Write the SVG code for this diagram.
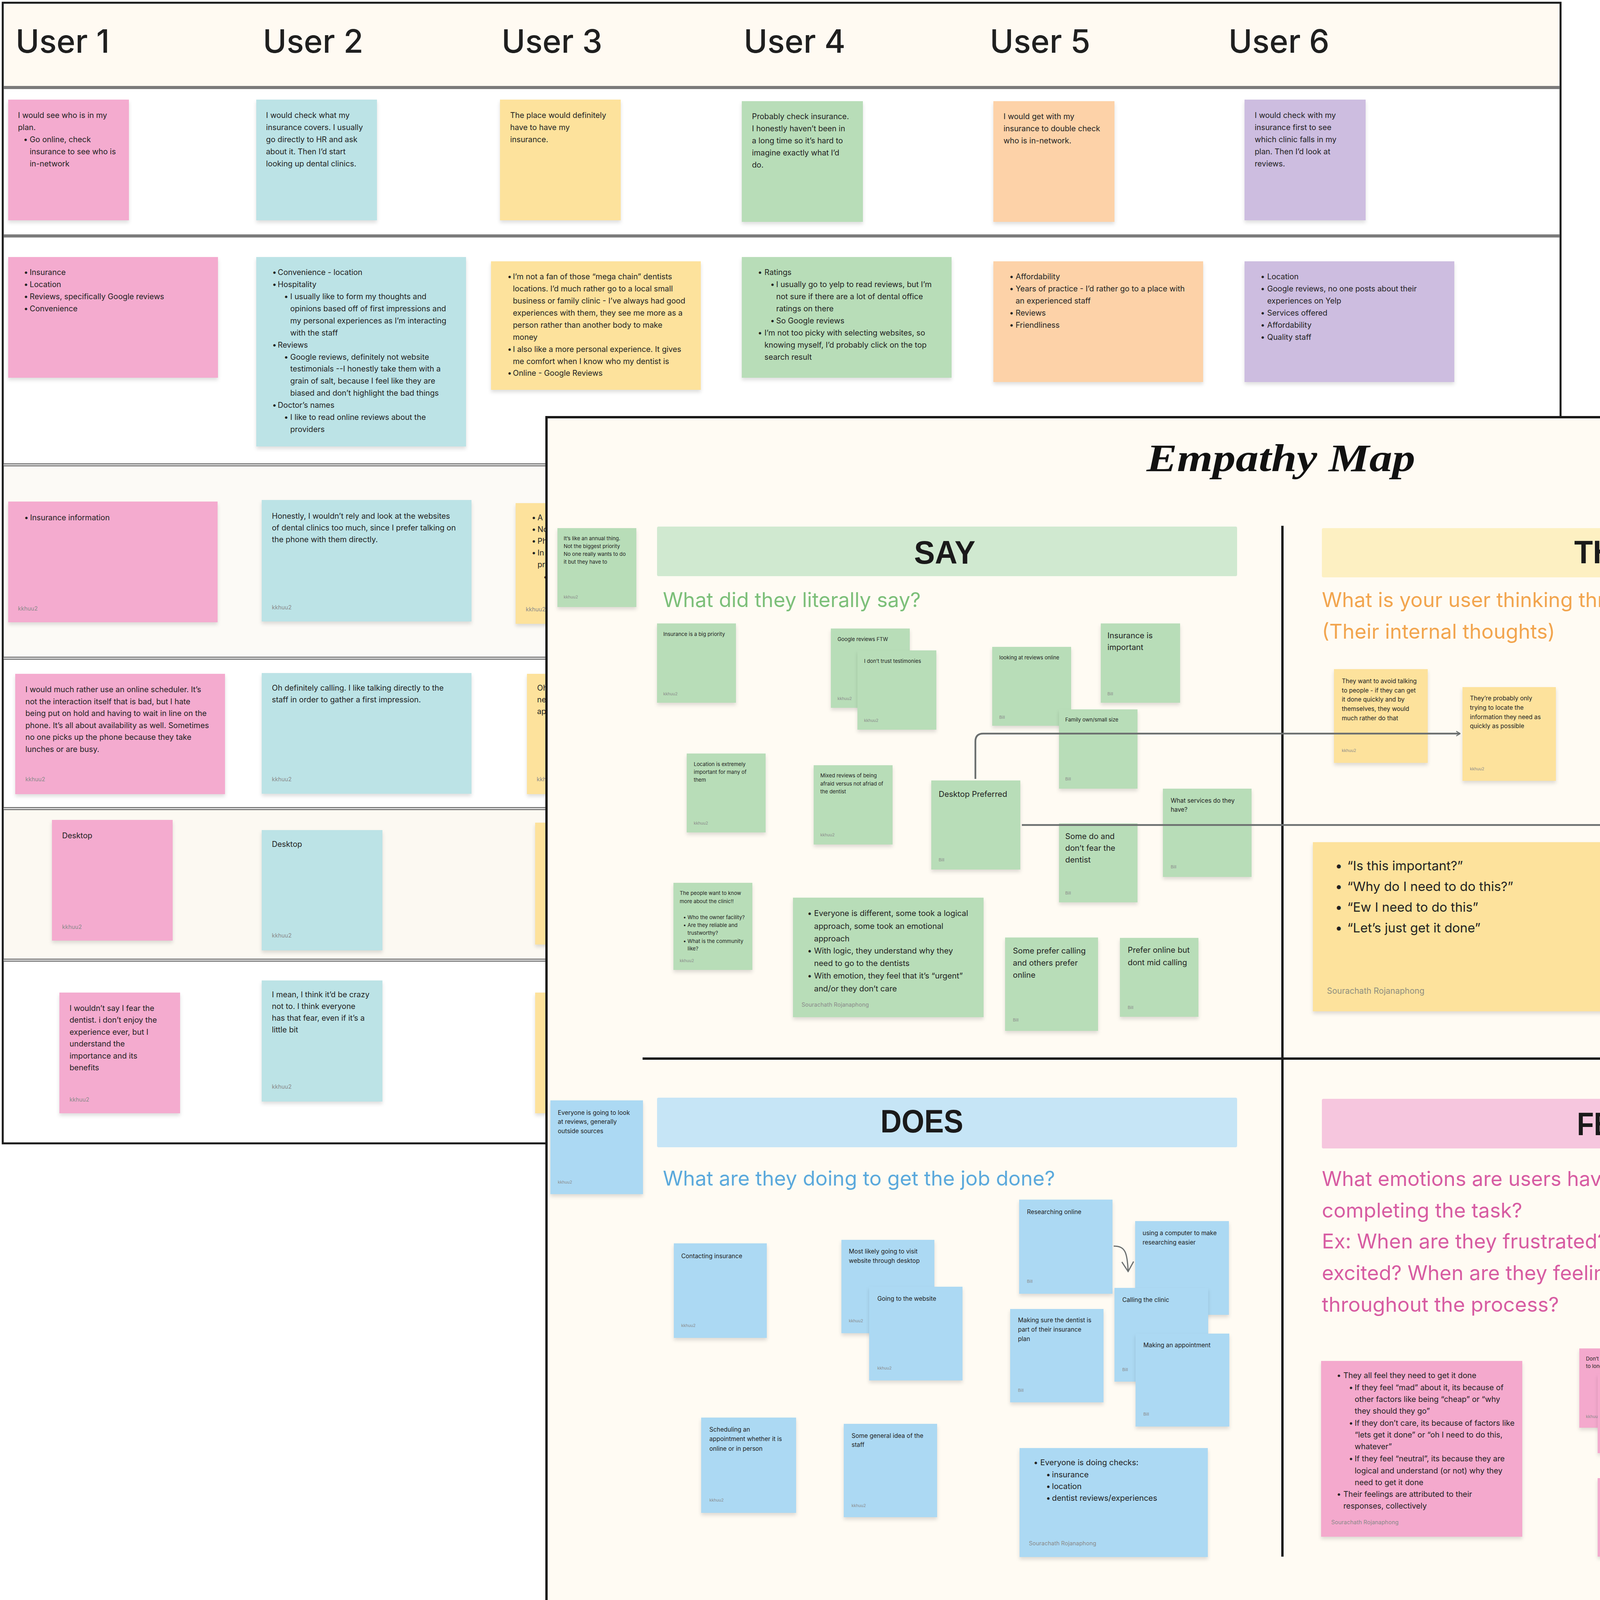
<svg xmlns="http://www.w3.org/2000/svg" width="5173" height="4165" viewBox="0 0 5173 4165">
<defs>
<style>
text{font-family:Inter,"Noto Sans","Liberation Sans",sans-serif;fill:#222}
.h{font-size:82px;font-weight:500;fill:#1f1f1f}
.a{font-size:19.8px}
.b{font-size:13.2px}
.c{font-size:15.5px}
.d{font-size:20.3px}
.e{font-size:33px}
.g{font-size:12px}
.fl{font-size:14.5px;fill:#8a8a8a}
.fs{font-size:10.5px;fill:#8a8a8a}
.fb{font-size:21px;fill:#8f8f7f}
.pk{fill:#f4abcf}.bl{fill:#bce3e6}.ye{fill:#fde29c}.gr{fill:#b8ddb8}.or{fill:#fdd2a8}.pu{fill:#cdbde0}.sb{fill:#acd9f3}.fp{fill:#f4a9cd}
.n{filter:url(#sh)}
.hd{font-family:"Liberation Sans",Arial,sans-serif;font-weight:bold;font-size:84px;fill:#1a1a1a}
.q{font-size:52px}
.row{stroke:#7b7b7b;stroke-width:8}
.row2{stroke:#ffffff;stroke-width:2}
.cn{fill:none;stroke:#6b6f6f;stroke-width:4.5}
</style>
<filter id="sh" x="-10%" y="-10%" width="120%" height="130%">
<feDropShadow dx="0" dy="6" stdDeviation="5" flood-color="#000" flood-opacity="0.13"/>
</filter>
<marker id="ar" viewBox="0 0 12 14" refX="11" refY="7" markerWidth="12" markerHeight="14" markerUnits="userSpaceOnUse" orient="auto">
<path d="M1,1 L11,7 L1,13" fill="none" stroke="#6b6f6f" stroke-width="2.5"/>
</marker>
<marker id="ar2" viewBox="0 0 12 14" refX="11" refY="7" markerWidth="30" markerHeight="36" markerUnits="userSpaceOnUse" orient="auto">
<path d="M1,1 L11,7 L1,13" fill="none" stroke="#6b6f6f" stroke-width="1.2"/>
</marker>
</defs>
<rect width="5173" height="4165" fill="#ffffff"/>

<!-- LEFT BOARD -->
<g id="user-board">
<rect x="7" y="7" width="3988" height="2920" fill="#ffffff" stroke="#1a1a1a" stroke-width="5"/>
<rect x="10" y="10" width="3982" height="214" fill="#fffaf2"/>
<rect x="10" y="1194" width="3982" height="490" fill="#fcfaf6"/>
<rect x="10" y="2074" width="3982" height="384" fill="#fcf9f2"/>
<line class="row" x1="9" y1="224" x2="3993" y2="224"/>
<line class="row" x1="9" y1="604" x2="3993" y2="604"/>
<line class="row" x1="9" y1="1190" x2="3993" y2="1190"/>
<line class="row2" x1="9" y1="1190" x2="3993" y2="1190"/>
<line class="row" x1="9" y1="1685" x2="3993" y2="1685"/>
<line class="row2" x1="9" y1="1685" x2="3993" y2="1685"/>
<line class="row" x1="9" y1="2070" x2="3993" y2="2070"/>
<line class="row2" x1="9" y1="2070" x2="3993" y2="2070"/>
<line class="row" x1="9" y1="2458" x2="3993" y2="2458"/>
<line class="row2" x1="9" y1="2458" x2="3993" y2="2458"/>
<text class="h" x="40" y="135">User 1</text>
<text class="h" x="673" y="135">User 2</text>
<text class="h" x="1284" y="135">User 3</text>
<text class="h" x="1904" y="135">User 4</text>
<text class="h" x="2534" y="135">User 5</text>
<text class="h" x="3145" y="135">User 6</text>
</g>

<g id="u1-r1"><rect class="pk n" x="21" y="255" width="309" height="309"/>
<text class="a" x="46" y="302">I would see who is in my</text><text class="a" x="46" y="333">plan.</text>
<text class="a" x="60" y="364">•</text><text class="a" x="76" y="364">Go online, check</text><text class="a" x="76" y="395">insurance to see who is</text><text class="a" x="76" y="426">in-network</text></g>
<g id="u2-r1"><rect class="bl n" x="656" y="255" width="309" height="309"/>
<text class="a" x="681" y="302">I would check what my</text><text class="a" x="681" y="333">insurance covers. I usually</text><text class="a" x="681" y="364">go directly to HR and ask</text><text class="a" x="681" y="395">about it. Then I’d start</text><text class="a" x="681" y="426">looking up dental clinics.</text></g>
<g id="u3-r1"><rect class="ye n" x="1280" y="255" width="309" height="309"/>
<text class="a" x="1306" y="302">The place would definitely</text><text class="a" x="1306" y="333">have to have my</text><text class="a" x="1306" y="364">insurance.</text></g>
<g id="u4-r1"><rect class="gr n" x="1899" y="259" width="310" height="309"/>
<text class="a" x="1925" y="305">Probably check insurance.</text><text class="a" x="1925" y="336">I honestly haven’t been in</text><text class="a" x="1925" y="367">a long time so it’s hard to</text><text class="a" x="1925" y="398">imagine exactly what I’d</text><text class="a" x="1925" y="429">do.</text></g>
<g id="u5-r1"><rect class="or n" x="2543" y="259" width="310" height="309"/>
<text class="a" x="2569" y="305">I would get with my</text><text class="a" x="2569" y="336">insurance to double check</text><text class="a" x="2569" y="367">who is in-network.</text></g>
<g id="u6-r1"><rect class="pu n" x="3186" y="255" width="310" height="309"/>
<text class="a" x="3212" y="302">I would check with my</text><text class="a" x="3212" y="333">insurance first to see</text><text class="a" x="3212" y="364">which clinic falls in my</text><text class="a" x="3212" y="395">plan. Then I’d look at</text><text class="a" x="3212" y="426">reviews.</text></g>

<g id="u1-r2"><rect class="pk n" x="21" y="658" width="537" height="309"/>
<text class="a" x="61" y="704">•</text><text class="a" x="76" y="704">Insurance</text>
<text class="a" x="61" y="735">•</text><text class="a" x="76" y="735">Location</text>
<text class="a" x="61" y="766">•</text><text class="a" x="76" y="766">Reviews, specifically Google reviews</text>
<text class="a" x="61" y="797">•</text><text class="a" x="76" y="797">Convenience</text></g>
<g id="u2-r2"><rect class="bl n" x="656" y="658" width="537" height="485"/>
<text class="a" x="697" y="704">•</text><text class="a" x="711" y="704">Convenience - location</text>
<text class="a" x="697" y="735">•</text><text class="a" x="711" y="735">Hospitality</text>
<text class="a" x="727" y="766">•</text><text class="a" x="743" y="766">I usually like to form my thoughts and</text>
<text class="a" x="743" y="797">opinions based off of first impressions and</text>
<text class="a" x="743" y="828">my personal experiences as I’m interacting</text>
<text class="a" x="743" y="859">with the  staff</text>
<text class="a" x="697" y="890">•</text><text class="a" x="711" y="890">Reviews</text>
<text class="a" x="727" y="921">•</text><text class="a" x="743" y="921">Google reviews, definitely not website</text>
<text class="a" x="743" y="951">testimonials --I honestly take them with a</text>
<text class="a" x="743" y="982">grain of salt, because I feel like they are</text>
<text class="a" x="743" y="1013">biased and don’t highlight the bad things</text>
<text class="a" x="697" y="1044">•</text><text class="a" x="711" y="1044">Doctor’s names</text>
<text class="a" x="727" y="1075">•</text><text class="a" x="743" y="1075">I like to read online reviews about the</text>
<text class="a" x="743" y="1106">providers</text></g>
<g id="u3-r2"><rect class="ye n" x="1257" y="669" width="537" height="329"/>
<text class="a" x="1299" y="715">•</text><text class="a" x="1313" y="715">I’m not a fan of those “mega chain” dentists</text>
<text class="a" x="1313" y="746">locations. I’d much rather go to a local small</text>
<text class="a" x="1313" y="777">business or family clinic - I’ve always had good</text>
<text class="a" x="1313" y="808">experiences with them, they see me more as a</text>
<text class="a" x="1313" y="839">person rather than another body to make</text>
<text class="a" x="1313" y="870">money</text>
<text class="a" x="1299" y="901">•</text><text class="a" x="1313" y="901">I also like a more personal experience. It gives</text>
<text class="a" x="1313" y="932">me comfort when I know who my dentist is</text>
<text class="a" x="1299" y="962">•</text><text class="a" x="1313" y="962">Online - Google Reviews</text></g>
<g id="u4-r2"><rect class="gr n" x="1899" y="658" width="537" height="309"/>
<text class="a" x="1940" y="704">•</text><text class="a" x="1957" y="704">Ratings</text>
<text class="a" x="1972" y="735">•</text><text class="a" x="1987" y="735">I usually go to yelp to read reviews, but I’m</text>
<text class="a" x="1987" y="766">not sure if there are a lot of dental office</text>
<text class="a" x="1987" y="797">ratings on there</text>
<text class="a" x="1972" y="828">•</text><text class="a" x="1987" y="828">So Google reviews</text>
<text class="a" x="1940" y="859">•</text><text class="a" x="1957" y="859">I’m not too picky with selecting websites, so</text>
<text class="a" x="1957" y="890">knowing myself, I’d probably click on the top</text>
<text class="a" x="1957" y="921">search result</text></g>
<g id="u5-r2"><rect class="or n" x="2543" y="669" width="537" height="309"/>
<text class="a" x="2584" y="715">•</text><text class="a" x="2600" y="715">Affordability</text>
<text class="a" x="2584" y="746">•</text><text class="a" x="2600" y="746">Years of practice - I’d rather go to a place with</text>
<text class="a" x="2600" y="777">an experienced staff</text>
<text class="a" x="2584" y="808">•</text><text class="a" x="2600" y="808">Reviews</text>
<text class="a" x="2584" y="839">•</text><text class="a" x="2600" y="839">Friendliness</text></g>
<g id="u6-r2"><rect class="pu n" x="3186" y="669" width="537" height="309"/>
<text class="a" x="3227" y="715">•</text><text class="a" x="3244" y="715">Location</text>
<text class="a" x="3227" y="746">•</text><text class="a" x="3244" y="746">Google reviews, no one posts about their</text>
<text class="a" x="3244" y="777">experiences on Yelp</text>
<text class="a" x="3227" y="808">•</text><text class="a" x="3244" y="808">Services offered</text>
<text class="a" x="3227" y="839">•</text><text class="a" x="3244" y="839">Affordability</text>
<text class="a" x="3227" y="870">•</text><text class="a" x="3244" y="870">Quality staff</text></g>

<g id="u1-r3"><rect class="pk n" x="21" y="1284" width="536" height="309"/>
<text class="a" x="62" y="1332">•</text><text class="a" x="77" y="1332">Insurance information</text>
<text class="fl" x="46" y="1563">kkhuu2</text></g>
<g id="u2-r3"><rect class="bl n" x="670" y="1280" width="537" height="311"/>
<text class="a" x="696" y="1328">Honestly, I wouldn’t rely and look at the websites</text>
<text class="a" x="696" y="1358">of dental clinics too much, since I prefer talking on</text>
<text class="a" x="696" y="1388">the phone with them directly.</text>
<text class="fl" x="696" y="1560">kkhuu2</text></g>
<g id="u3-r3"><rect class="ye n" x="1320" y="1288" width="300" height="309"/>
<text class="a" x="1361" y="1332">•</text><text class="a" x="1376" y="1332">A</text>
<text class="a" x="1361" y="1362">•</text><text class="a" x="1376" y="1362">No</text>
<text class="a" x="1361" y="1392">•</text><text class="a" x="1376" y="1392">Ph</text>
<text class="a" x="1361" y="1422">•</text><text class="a" x="1376" y="1422">In</text>
<text class="a" x="1376" y="1452">pr</text>
<text class="a" x="1391" y="1484">•</text>
<text class="fl" x="1346" y="1565">kkhuu2</text></g>

<g id="u1-r4"><rect class="pk n" x="39" y="1725" width="537" height="308"/>
<text class="a" x="65" y="1772">I would much rather use an online scheduler. It’s</text>
<text class="a" x="65" y="1803">not the interaction itself that is bad, but I hate</text>
<text class="a" x="65" y="1833">being put on hold and having to wait in line on the</text>
<text class="a" x="65" y="1864">phone. It’s all about availability as well. Sometimes</text>
<text class="a" x="65" y="1894">no one picks up the phone because they take</text>
<text class="a" x="65" y="1925">lunches or are busy.</text>
<text class="fl" x="65" y="2000">kkhuu2</text></g>
<g id="u2-r4"><rect class="bl n" x="670" y="1723" width="537" height="309"/>
<text class="a" x="696" y="1768">Oh definitely calling. I like talking directly to the</text>
<text class="a" x="696" y="1798">staff in order to gather a first impression.</text>
<text class="fl" x="696" y="2000">kkhuu2</text></g>
<g id="u3-r4"><rect class="ye n" x="1349" y="1725" width="300" height="308"/>
<text class="a" x="1375" y="1768">Oh</text><text class="a" x="1375" y="1798">ne</text><text class="a" x="1375" y="1828">ap</text>
<text class="fl" x="1374" y="2000">kkhuu2</text></g>

<g id="u1-r5"><rect class="pk n" x="133" y="2099" width="309" height="309"/>
<text class="a" x="159" y="2146">Desktop</text><text class="fl" x="159" y="2378">kkhuu2</text></g>
<g id="u2-r5"><rect class="bl n" x="670" y="2125" width="309" height="308"/>
<text class="a" x="696" y="2168">Desktop</text><text class="fl" x="696" y="2400">kkhuu2</text></g>
<g id="u3-r5"><rect class="ye n" x="1370" y="2106" width="300" height="312"/></g>

<g id="u1-r6"><rect class="pk n" x="152" y="2541" width="309" height="309"/>
<text class="a" x="178" y="2588">I wouldn’t say I fear the</text>
<text class="a" x="178" y="2618">dentist. i don’t enjoy the</text>
<text class="a" x="178" y="2649">experience ever, but I</text>
<text class="a" x="178" y="2679">understand the</text>
<text class="a" x="178" y="2710">importance and its</text>
<text class="a" x="178" y="2740">benefits</text>
<text class="fl" x="178" y="2820">kkhuu2</text></g>
<g id="u2-r6"><rect class="bl n" x="670" y="2510" width="309" height="310"/>
<text class="a" x="696" y="2553">I mean, I think it’d be crazy</text>
<text class="a" x="696" y="2583">not to. I think everyone</text>
<text class="a" x="696" y="2613">has that fear, even if it’s a</text>
<text class="a" x="696" y="2643">little bit</text>
<text class="fl" x="696" y="2787">kkhuu2</text></g>
<g id="u3-r6"><rect class="ye n" x="1370" y="2541" width="300" height="309"/></g>

<!-- EMPATHY MAP -->
<g id="empathy-frame">
<rect x="1399" y="1068" width="3769" height="3088" fill="#fffbf3" stroke="#1a1a1a" stroke-width="6"/>
<text x="2935" y="1206" font-style="italic" font-weight="bold" font-size="100" textLength="688" lengthAdjust="spacingAndGlyphs" style="font-family:'Liberation Serif',serif;fill:#111">Empathy Map</text>
<line x1="3283" y1="1346" x2="3283" y2="3985" stroke="#1a1a1a" stroke-width="6"/>
<line x1="1645" y1="2710" x2="5168" y2="2710" stroke="#1a1a1a" stroke-width="6"/>
</g>

<g id="say-header"><rect x="1682" y="1348" width="1485" height="127" rx="4" fill="#d0e9d0"/>
<text class="hd" x="2340" y="1443" textLength="157" lengthAdjust="spacingAndGlyphs">SAY</text>
<text class="q" x="1697" y="1554" style="fill:#7cbf79" textLength="660" lengthAdjust="spacingAndGlyphs">What did they literally say?</text></g>
<g id="think-header"><rect x="3384" y="1352" width="1485" height="126" rx="4" fill="#fdf0c2"/>
<text class="hd" x="4030" y="1442" textLength="239" lengthAdjust="spacingAndGlyphs">THINK</text>
<text class="q" x="3384" y="1554" style="fill:#f2a54e" textLength="1326" lengthAdjust="spacingAndGlyphs">What is your user thinking throughout a specific task?</text>
<text class="q" x="3384" y="1635" style="fill:#f2a54e" textLength="597" lengthAdjust="spacingAndGlyphs">(Their internal thoughts)</text></g>
<g id="does-header"><rect x="1682" y="2810" width="1485" height="127" rx="4" fill="#c6e5f6"/>
<text class="hd" x="2254" y="2899" textLength="212" lengthAdjust="spacingAndGlyphs">DOES</text>
<text class="q" x="1697" y="3035" style="fill:#5ba9dc" textLength="1004" lengthAdjust="spacingAndGlyphs">What are they doing to get the job done?</text></g>
<g id="feel-header"><rect x="3384" y="2813" width="1485" height="127" rx="4" fill="#f6c6de"/>
<text class="hd" x="4037" y="2906" textLength="181" lengthAdjust="spacingAndGlyphs">FEEL</text>
<text class="q" x="3384" y="3036" style="fill:#d75ca2" textLength="1077" lengthAdjust="spacingAndGlyphs">What emotions are users having as they are</text>
<text class="q" x="3384" y="3117" style="fill:#d75ca2" textLength="513" lengthAdjust="spacingAndGlyphs">completing the task?</text>
<text class="q" x="3384" y="3196" style="fill:#d75ca2" textLength="1105" lengthAdjust="spacingAndGlyphs">Ex: When are they frustrated? When are they</text>
<text class="q" x="3384" y="3277" style="fill:#d75ca2" textLength="1176" lengthAdjust="spacingAndGlyphs">excited? When are they feeling the most friction</text>
<text class="q" x="3384" y="3358" style="fill:#d75ca2" textLength="607" lengthAdjust="spacingAndGlyphs">throughout the process?</text></g>

<!-- SAY notes -->
<g id="say-annual"><rect class="gr n" x="1427" y="1352" width="202" height="202"/>
<text class="b" x="1443" y="1383">It’s like an annual thing.</text><text class="b" x="1443" y="1403">Not the biggest priority</text><text class="b" x="1443" y="1423">No one really wants to do</text><text class="b" x="1443" y="1443">it but they have to</text>
<text class="fs" x="1443" y="1532">kkhuu2</text></g>
<g id="say-1"><rect class="gr n" x="1682" y="1596" width="202" height="203"/>
<text class="b" x="1698" y="1628">Insurance is a big priority</text><text class="fs" x="1698" y="1780">kkhuu2</text></g>
<g id="say-2"><rect class="gr n" x="2127" y="1609" width="202" height="203"/>
<text class="b" x="2144" y="1641">Google reviews FTW</text><text class="fs" x="2144" y="1792">kkhuu2</text></g>
<g id="say-3"><rect class="gr n" x="2195" y="1665" width="202" height="203"/>
<text class="b" x="2212" y="1697">I don’t trust testimonies</text><text class="fs" x="2212" y="1848">kkhuu2</text></g>
<g id="say-4"><rect class="gr n" x="2540" y="1656" width="202" height="202"/>
<text class="b" x="2558" y="1688">looking at reviews online</text><text class="fs" x="2558" y="1840">Bill</text></g>
<g id="say-5"><rect class="gr n" x="2818" y="1596" width="203" height="203"/>
<text class="d" x="2835" y="1634">Insurance is</text><text class="d" x="2835" y="1664">important</text><text class="fs" x="2835" y="1780">Bill</text></g>
<g id="say-6"><rect class="gr n" x="2711" y="1816" width="201" height="203"/>
<text class="b" x="2727" y="1847">Family own/small size</text><text class="fs" x="2727" y="1998">Bill</text></g>
<g id="say-7"><rect class="gr n" x="1758" y="1929" width="202" height="202"/>
<text class="b" x="1776" y="1961">Location is  extremely</text><text class="b" x="1776" y="1981">important for many of</text><text class="b" x="1776" y="2001">them</text><text class="fs" x="1776" y="2111">kkhuu2</text></g>
<g id="say-8"><rect class="gr n" x="2083" y="1959" width="202" height="203"/>
<text class="b" x="2100" y="1990">Mixed reviews of being</text><text class="b" x="2100" y="2011">afraid versus not afriad of</text><text class="b" x="2100" y="2031">the dentist</text><text class="fs" x="2100" y="2141">kkhuu2</text></g>
<g id="say-9"><rect class="gr n" x="2384" y="1998" width="228" height="228"/>
<text class="d" x="2403" y="2040">Desktop Preferred</text><text class="fs" x="2403" y="2205">Bill</text></g>
<g id="say-10"><rect class="gr n" x="2711" y="2108" width="201" height="202"/>
<text class="d" x="2727" y="2148">Some do and</text><text class="d" x="2727" y="2178">don’t fear the</text><text class="d" x="2727" y="2208">dentist</text><text class="fs" x="2727" y="2290">Bill</text></g>
<g id="say-11"><rect class="gr n" x="2977" y="2019" width="227" height="226"/>
<text class="c" x="2997" y="2055">What services do they</text><text class="c" x="2997" y="2078">have?</text><text class="fs" x="2997" y="2223">Bill</text></g>
<g id="say-12"><rect class="gr n" x="1724" y="2260" width="202" height="223"/>
<text class="b" x="1740" y="2291">The people want to know</text><text class="b" x="1740" y="2312">more about the clinic!!</text>
<text class="b" x="1749" y="2353">•</text><text class="b" x="1760" y="2353">Who the owner facility?</text>
<text class="b" x="1749" y="2373">•</text><text class="b" x="1760" y="2373">Are they reliable and</text>
<text class="b" x="1760" y="2393">trustworthy?</text>
<text class="b" x="1749" y="2414">•</text><text class="b" x="1760" y="2414">What is the community</text>
<text class="b" x="1760" y="2433">like?</text>
<text class="fs" x="1740" y="2463">kkhuu2</text></g>
<g id="say-13"><rect class="gr n" x="2030" y="2298" width="488" height="306"/>
<text class="d" x="2067" y="2345">•</text><text class="d" x="2084" y="2345">Everyone is different, some took a logical</text>
<text class="d" x="2084" y="2378">approach, some took an emotional</text>
<text class="d" x="2084" y="2410">approach</text>
<text class="d" x="2067" y="2441">•</text><text class="d" x="2084" y="2441">With logic, they understand why they</text>
<text class="d" x="2084" y="2473">need to go to the dentists</text>
<text class="d" x="2067" y="2505">•</text><text class="d" x="2084" y="2505">With emotion, they feel that it’s “urgent”</text>
<text class="d" x="2084" y="2538">and/or they don’t care</text>
<text class="fl" x="2052" y="2577">Sourachath Rojanaphong</text></g>
<g id="say-14"><rect class="gr n" x="2573" y="2400" width="238" height="239"/>
<text class="d" x="2593" y="2441">Some prefer calling</text><text class="d" x="2593" y="2472">and others prefer</text><text class="d" x="2593" y="2503">online</text><text class="fs" x="2593" y="2615">Bill</text></g>
<g id="say-15"><rect class="gr n" x="2867" y="2401" width="201" height="202"/>
<text class="d" x="2887" y="2439">Prefer online but</text><text class="d" x="2887" y="2471">dont mid calling</text><text class="fs" x="2887" y="2583">Bill</text></g>

<!-- THINK notes -->
<g id="think-side"><rect class="ye n" x="4900" y="1352" width="240" height="238"/>
<text class="c" x="4919" y="1386">Let’s just do it</text><text class="c" x="4919" y="1410">Quick and painless</text><text class="c" x="4919" y="1434">Design in a way to make it</text><text class="c" x="4919" y="1458">easy</text>
<text class="fs" x="4919" y="1564">kkhuu2</text></g>
<g id="think-1"><rect class="ye n" x="3415" y="1713" width="240" height="240"/>
<text class="c" x="3435" y="1749">They want to avoid talking</text><text class="c" x="3435" y="1773">to people - if they can get</text><text class="c" x="3435" y="1796">it done quickly and by</text><text class="c" x="3435" y="1820">themselves, they would</text><text class="c" x="3435" y="1844">much rather do that</text>
<text class="fs" x="3435" y="1925">kkhuu2</text></g>
<g id="think-2"><rect class="ye n" x="3744" y="1759" width="239" height="240"/>
<text class="c" x="3763" y="1793">They’re probably only</text><text class="c" x="3763" y="1817">trying to locate the</text><text class="c" x="3763" y="1841">information they need as</text><text class="c" x="3763" y="1864">quickly as possible</text>
<text class="fs" x="3763" y="1972">kkhuu2</text></g>
<g id="think-3"><rect class="ye n" x="4336" y="1642" width="239" height="240"/>
<text class="c" x="4356" y="1678">They are looking at first</text><text class="c" x="4356" y="1702">impressions</text><text class="fs" x="4356" y="1856">Bill</text></g>
<g id="think-4"><rect class="ye n" x="4698" y="1679" width="201" height="203"/>
<text class="b" x="4713" y="1710">are they family owned or</text><text class="b" x="4713" y="1731">small practice</text><text class="fs" x="4713" y="1858">Bill</text></g>
<g id="think-5"><rect class="ye n" x="4188" y="1898" width="203" height="205"/>
<text class="b" x="4204" y="1928">This is important so ill use</text><text class="b" x="4204" y="1949">my computer</text><text class="fs" x="4204" y="2078">Bill</text></g>
<g id="think-6"><rect class="ye n" x="4424" y="1988" width="239" height="239"/>
<text class="c" x="4444" y="2023">Do they have reviews</text><text class="fs" x="4444" y="2200">Bill</text></g>
<g id="think-7"><rect class="ye n" x="4698" y="1988" width="239" height="239"/>
<text class="c" x="4716" y="2023">are the reviews trust</text><text class="c" x="4716" y="2047">worthy</text><text class="fs" x="4716" y="2200">Bill</text></g>
<g id="think-8"><rect class="ye n" x="3361" y="2156" width="749" height="433"/>
<text class="e" x="3418" y="2228">•</text><text class="e" x="3449" y="2228">“Is this important?”</text>
<text class="e" x="3418" y="2281">•</text><text class="e" x="3449" y="2281">“Why do I need to do this?”</text>
<text class="e" x="3418" y="2334">•</text><text class="e" x="3449" y="2334">“Ew I need to do this”</text>
<text class="e" x="3418" y="2387">•</text><text class="e" x="3449" y="2387">“Let’s just get it done”</text>
<text class="fb" x="3397" y="2544">Sourachath Rojanaphong</text></g>
<g id="think-9"><rect class="ye n" x="4298" y="2281" width="239" height="241"/>
<text class="c" x="4317" y="2318">Efficient way to find</text><text class="c" x="4317" y="2342">information</text><text class="fs" x="4317" y="2498">kkhuu2</text></g>

<!-- DOES notes -->
<g id="does-side"><rect class="sb n" x="1409" y="2817" width="237" height="240"/>
<text class="c" x="1428" y="2854">Everyone is going to look</text><text class="c" x="1428" y="2877">at reviews, generally</text><text class="c" x="1428" y="2901">outside sources</text><text class="fs" x="1428" y="3030">kkhuu2</text></g>
<g id="does-1"><rect class="sb n" x="1725" y="3183" width="238" height="242"/>
<text class="c" x="1744" y="3221">Contacting insurance</text><text class="fs" x="1744" y="3397">kkhuu2</text></g>
<g id="does-2"><rect class="sb n" x="2154" y="3174" width="238" height="239"/>
<text class="c" x="2173" y="3209">Most likely going to visit</text><text class="c" x="2173" y="3233">website through desktop</text><text class="fs" x="2173" y="3385">kkhuu2</text></g>
<g id="does-3"><rect class="sb n" x="2225" y="3294" width="239" height="240"/>
<text class="c" x="2246" y="3330">Going to the website</text><text class="fs" x="2246" y="3506">kkhuu2</text></g>
<g id="does-4"><rect class="sb n" x="2609" y="3071" width="239" height="241"/>
<text class="c" x="2629" y="3108">Researching online</text><text class="fs" x="2629" y="3284">Bill</text></g>
<g id="does-5"><rect class="sb n" x="2906" y="3126" width="240" height="240"/>
<text class="c" x="2925" y="3162">using a computer to make</text><text class="c" x="2925" y="3186">researching easier</text></g>
<g id="does-6"><rect class="sb n" x="2853" y="3297" width="240" height="240"/>
<text class="c" x="2873" y="3333">Calling the clinic</text><text class="fs" x="2873" y="3510">Bill</text></g>
<g id="does-7"><rect class="sb n" x="2907" y="3414" width="240" height="238"/>
<text class="c" x="2927" y="3449">Making an appointment</text><text class="fs" x="2927" y="3624">Bill</text></g>
<g id="does-8"><rect class="sb n" x="2586" y="3351" width="239" height="239"/>
<text class="c" x="2606" y="3385">Making sure the dentist is</text><text class="c" x="2606" y="3409">part of their insurance</text><text class="c" x="2606" y="3433">plan</text><text class="fs" x="2606" y="3563">Bill</text></g>
<g id="does-9"><rect class="sb n" x="1795" y="3629" width="243" height="244"/>
<text class="c" x="1816" y="3665">Scheduling an</text><text class="c" x="1816" y="3689">appointment whether it is</text><text class="c" x="1816" y="3714">online or in person</text><text class="fs" x="1816" y="3844">kkhuu2</text></g>
<g id="does-10"><rect class="sb n" x="2160" y="3645" width="239" height="239"/>
<text class="c" x="2180" y="3681">Some general idea of the</text><text class="c" x="2180" y="3704">staff</text><text class="fs" x="2180" y="3858">kkhuu2</text></g>
<g id="does-11"><rect class="sb n" x="2610" y="3707" width="482" height="279"/>
<text class="d" x="2646" y="3751">•</text><text class="d" x="2663" y="3751">Everyone is doing checks:</text>
<text class="d" x="2678" y="3782">•</text><text class="d" x="2693" y="3782">insurance</text>
<text class="d" x="2678" y="3812">•</text><text class="d" x="2693" y="3812">location</text>
<text class="d" x="2678" y="3842">•</text><text class="d" x="2693" y="3842">dentist reviews/experiences</text>
<text class="fl" x="2634" y="3956">Sourachath Rojanaphong</text></g>

<!-- FEEL notes -->
<g id="feel-side"><rect class="fp n" x="4918" y="2810" width="202" height="243"/>
<text class="g" x="4934" y="2839">Some conversational</text><text class="g" x="4934" y="2859">summary from the team</text>
<text class="g" x="4943" y="2879">•</text><text class="g" x="4953" y="2879">technological literacy</text>
<text class="g" x="4953" y="2899">will impact the user’s</text><text class="g" x="4953" y="2920">experienced</text>
<text class="g" x="4943" y="2940">•</text><text class="g" x="4953" y="2940">cognitive headspace</text>
<text class="g" x="4953" y="2960">availability</text>
<text class="g" x="4943" y="2980">•</text><text class="g" x="4953" y="2980">More trusting of 3rd</text>
<text class="g" x="4953" y="3001">party websites</text>
<text class="fs" x="4934" y="3032">kkhuu2</text></g>
<g id="feel-1"><rect class="fp n" x="3382" y="3484" width="515" height="450"/>
<text class="a" x="3422" y="3528">•</text><text class="a" x="3439" y="3528">They all feel they need to get it done</text>
<text class="a" x="3453" y="3559">•</text><text class="a" x="3468" y="3559">If they feel “mad” about it, its because of</text>
<text class="a" x="3468" y="3589">other factors like being “cheap” or “why</text>
<text class="a" x="3468" y="3619">they should they go”</text>
<text class="a" x="3453" y="3650">•</text><text class="a" x="3468" y="3650">If they don’t care, its because of factors like</text>
<text class="a" x="3468" y="3680">“lets get it done” or “oh I need to do this,</text>
<text class="a" x="3468" y="3710">whatever”</text>
<text class="a" x="3453" y="3741">•</text><text class="a" x="3468" y="3741">If they feel “neutral”, its because they are</text>
<text class="a" x="3468" y="3772">logical and understand (or not) why they</text>
<text class="a" x="3468" y="3802">need to get it done</text>
<text class="a" x="3422" y="3832">•</text><text class="a" x="3439" y="3832">Their feelings are attributed to their</text>
<text class="a" x="3439" y="3862">responses, collectively</text>
<text class="fl" x="3408" y="3902">Sourachath Rojanaphong</text></g>
<g id="feel-2"><rect class="fp n" x="4043" y="3452" width="202" height="203"/>
<text class="b" x="4060" y="3483">Don’t want this to drag on</text><text class="b" x="4060" y="3502">to long</text><text class="fs" x="4060" y="3630">kkhuu</text></g>
<g id="feel-3"><rect class="fp n" x="4090" y="3518" width="200" height="202"/>
<text class="b" x="4106" y="3549">Impatient/in a rush</text><text class="fs" x="4106" y="3700">Bill</text></g>
<g id="feel-4"><rect class="fp n" x="4433" y="3452" width="202" height="203"/>
<text class="b" x="4450" y="3483">Excited to see something</text><text class="b" x="4450" y="3502">they can put their trust in -</text><text class="b" x="4450" y="3522">whether it’s photos of</text><text class="b" x="4450" y="3543">facility or the doctors and</text><text class="b" x="4450" y="3562">staff</text><text class="fs" x="4450" y="3630">kkhuu2</text></g>
<g id="feel-5"><rect class="fp n" x="4780" y="3452" width="202" height="203"/>
<text class="b" x="4797" y="3483">Anxiety</text><text class="fs" x="4797" y="3630">kkhuu</text></g>
<g id="feel-6"><rect class="fp n" x="4827" y="3505" width="201" height="203"/>
<text class="b" x="4843" y="3537">Anxiety from talking to</text><text class="b" x="4843" y="3556">people</text><text class="fs" x="4843" y="3686">Bill</text></g>
<g id="feel-7"><rect class="fp n" x="4090" y="3784" width="200" height="201"/>
<text class="b" x="4106" y="3815">Friction with insurances</text><text class="b" x="4106" y="3834">not being widely accepted</text><text class="fs" x="4106" y="3963">kkhuu2</text></g>
<g id="feel-8"><rect class="fp n" x="4458" y="3784" width="202" height="201"/>
<text class="b" x="4476" y="3815">Skeptical</text><text class="fs" x="4476" y="3963">Bill</text></g>
<g id="feel-9"><rect class="fp n" x="4796" y="3784" width="202" height="201"/>
<text class="b" x="4812" y="3815">Not feeling fear of dentist</text><text class="fs" x="4812" y="3963">Bill</text></g>

<!-- CONNECTORS -->
<g id="connectors">
<path class="cn" d="M2497,1994 L2497,1898 Q2497,1878 2517,1878 L3738,1878" marker-end="url(#ar)"/>
<path class="cn" d="M2616,2112 L4152,2112 Q4172,2112 4172,2132 L4172,2380 Q4172,2400 4192,2400 L4294,2400" marker-end="url(#ar)"/>
<path d="M2851,3190 C2880,3190 2886,3205 2888,3255" fill="none" stroke="#6b6f6f" stroke-width="3" marker-end="url(#ar2)"/>
</g>
</svg>
